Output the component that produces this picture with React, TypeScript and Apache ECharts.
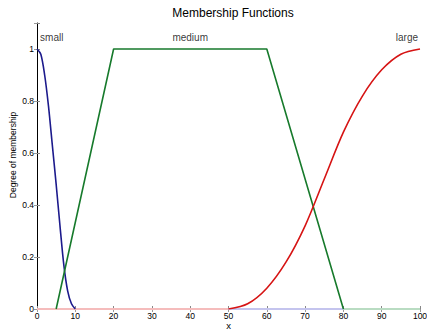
import React, { useEffect, useRef } from "react";
import * as echarts from "echarts";

const smallX = [0, 1, 2, 3, 4, 5, 6, 7, 8, 9, 10];
const smallY = [1, 0.98, 0.9, 0.78, 0.63, 0.48, 0.32, 0.17, 0.07, 0.02, 0];
const mediumX = [5, 20, 60, 80];
const mediumY = [0, 1, 1, 0];
const largeX = [50, 55, 60, 65, 70, 75, 80, 85, 90, 95, 100];
const largeY = [0, 0.02, 0.08, 0.18, 0.32, 0.5, 0.68, 0.82, 0.92, 0.98, 1];
const zeroLarge = [0, 50];
const zeroSmall = [50, 80];
const zeroMedium = [80, 100];
const mfNames = ["small", "medium", "large"];
const mfLabelX = [0.8, 40, 99.5];
const mfLabelY = [1.045, 1.045, 1.045];

const FONT = "Liberation Sans, Arial, Helvetica, sans-serif";

function pairs(xs: number[], ys: number[]) {
  return xs.map((x, i) => [x, ys[i]]);
}
function zeroLine(xs: number[]) {
  return xs.map((x) => [x, 0]);
}

export default function App() {
  const ref = useRef<HTMLDivElement>(null);
  useEffect(() => {
    if (!ref.current) return;
    const chart = echarts.init(ref.current, undefined, { renderer: "svg" });
    const aligns = ["left", "center", "right"];
    chart.setOption({
      animation: false,
      backgroundColor: "#ffffff",
      textStyle: { fontFamily: FONT },
      title: {
        text: "Membership Functions",
        left: 228,
        top: 2,
        textAlign: "center",
        textStyle: { fontSize: 12, fontWeight: "normal", color: "#000", fontFamily: FONT },
      },
      grid: { left: 37, right: 7, top: 23, bottom: 22, containLabel: false, outerBoundsMode: "none" },
      xAxis: [
        {
          type: "value",
          min: 0,
          max: 100,
          interval: 10,
          name: "x",
          nameLocation: "middle",
          nameGap: 12,
          nameMoveOverlap: false,
          nameTextStyle: { fontSize: 9.5, lineHeight: 8, color: "#000", fontFamily: FONT },
          axisLine: { show: true, lineStyle: { color: "#000", width: 1 } },
          axisTick: { show: true, inside: true, length: 3, lineStyle: { color: "#888" } },
          axisLabel: { fontSize: 8.5, lineHeight: 9, color: "#000", margin: 2, fontFamily: FONT },
          splitLine: { show: false },
        },
        {
          type: "value",
          position: "top",
          min: 0,
          max: 100,
          interval: 10,
          axisLine: { show: true, lineStyle: { color: "#999", width: 1 } },
          axisTick: { show: true, inside: true, length: 3, lineStyle: { color: "#999" } },
          axisLabel: { show: false },
          splitLine: { show: false },
        },
      ],
      yAxis: [
        {
          type: "value",
          min: 0,
          max: 1.1,
          interval: 0.2,
          name: "Degree of membership",
          nameLocation: "middle",
          nameGap: 20,
          nameMoveOverlap: false,
          nameTextStyle: { fontSize: 8.5, color: "#000", fontFamily: FONT, padding: [0, 0, 0, 22] },
          axisLine: { show: true, lineStyle: { color: "#000", width: 1 } },
          axisTick: { show: true, inside: true, length: 3, lineStyle: { color: "#888" } },
          axisLabel: {
            fontSize: 8.5,
            color: "#000",
            margin: 3,
            fontFamily: FONT,
            formatter: (v: number) => (v > 1.05 ? "" : String(Math.round(v * 10) / 10)),
          },
          splitLine: { show: false },
        },
        {
          type: "value",
          position: "right",
          min: 0,
          max: 1.1,
          interval: 0.2,
          axisLine: { show: false },
          axisTick: { show: true, inside: true, length: 3, lineStyle: { color: "#999" } },
          axisLabel: { show: false },
          splitLine: { show: false },
        },
      ],
      series: [
        {
          type: "line",
          name: "zero-large",
          data: zeroLine(zeroLarge),
          symbol: "none",
          lineStyle: { color: "#f5bcbc", width: 2 },
          z: 3,
        },
        {
          type: "line",
          name: "zero-small",
          data: zeroLine(zeroSmall),
          symbol: "none",
          lineStyle: { color: "#c4c4ee", width: 2 },
          z: 3,
        },
        {
          type: "line",
          name: "zero-medium",
          data: zeroLine(zeroMedium),
          symbol: "none",
          lineStyle: { color: "#b9dcc2", width: 2 },
          z: 3,
        },
        {
          type: "line",
          name: "small",
          data: pairs(smallX, smallY),
          symbol: "none",
          smooth: 0.3,
          lineStyle: { color: "#1c1a8c", width: 1.6 },
          z: 4,
        },
        {
          type: "line",
          name: "medium",
          data: pairs(mediumX, mediumY),
          symbol: "none",
          lineStyle: { color: "#177a2c", width: 1.6 },
          z: 4,
        },
        {
          type: "line",
          name: "large",
          data: pairs(largeX, largeY),
          symbol: "none",
          smooth: 0.3,
          lineStyle: { color: "#d61414", width: 1.6 },
          z: 4,
        },
        {
          type: "scatter",
          name: "labels",
          symbolSize: 0,
          silent: true,
          data: mfNames.map((n, i) => ({
            name: n,
            value: [mfLabelX[i], mfLabelY[i]],
            label: { align: aligns[i] },
          })),
          label: {
            show: true,
            position: "inside",
            formatter: (p: any) => p.name,
            fontSize: 10,
            color: "#000",
            fontFamily: FONT,
          },
          z: 5,
        },
      ],
    });
    return () => chart.dispose();
  }, []);
  return (
    <div
      ref={ref}
      style={{ position: "fixed", left: 0, top: 0, width: 427, height: 331, background: "#fff" }}
    />
  );
}
